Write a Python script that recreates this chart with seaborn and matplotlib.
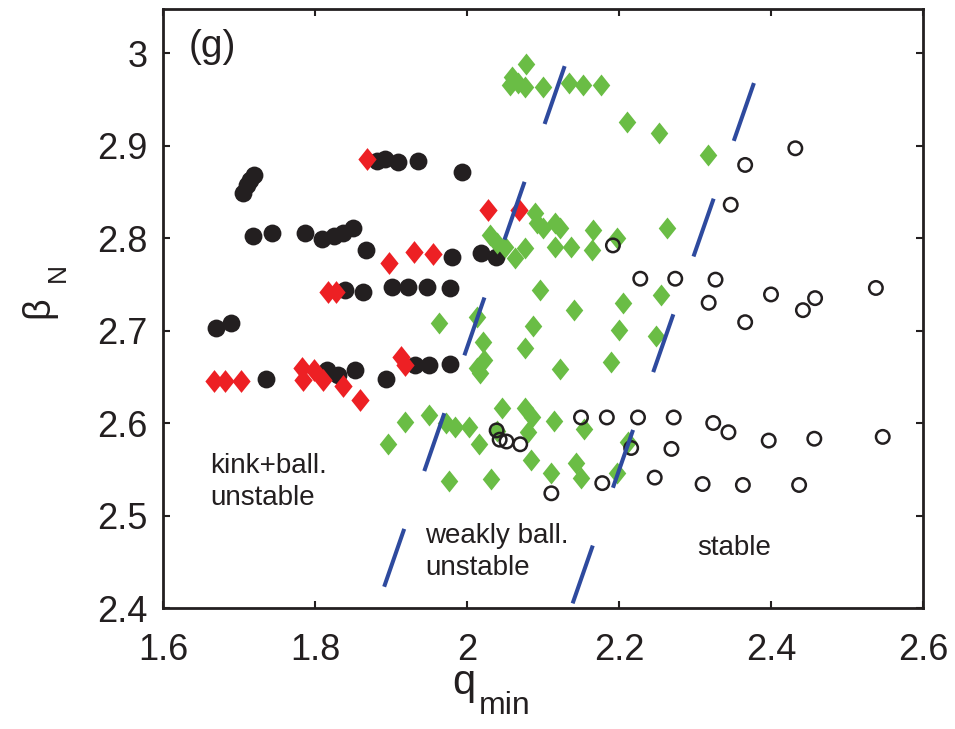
import numpy as np
import pandas as pd
import matplotlib
matplotlib.use("Agg")
import matplotlib.pyplot as plt
import seaborn as sns
from matplotlib.ticker import FuncFormatter, FixedLocator

# ---------------- data ----------------
# kink + ballooning unstable (black filled circles)
black_q = [1.705, 1.711, 1.714, 1.720,
           1.718, 1.743, 1.787, 1.809, 1.825, 1.837, 1.850, 1.867,
           1.881, 1.892, 1.909, 1.936, 1.993,
           1.980, 2.019, 2.038,
           1.839, 1.863, 1.901, 1.922, 1.947, 1.978,
           1.670, 1.689,
           1.736, 1.816, 1.830, 1.853, 1.893, 1.932, 1.950, 1.978]
black_b = [2.849, 2.857, 2.863, 2.868,
           2.802, 2.805, 2.805, 2.799, 2.802, 2.805, 2.811, 2.787,
           2.883, 2.885, 2.882, 2.883, 2.871,
           2.780, 2.784, 2.779,
           2.744, 2.742, 2.747, 2.747, 2.747, 2.746,
           2.703, 2.708,
           2.648, 2.657, 2.652, 2.657, 2.648, 2.663, 2.663, 2.664]

# red diamonds
red_q = [1.868, 2.028, 2.068, 1.897, 1.930, 1.955, 1.817, 1.827,
         1.667, 1.682, 1.703, 1.783, 1.784, 1.799, 1.811, 1.837, 1.859,
         1.913, 1.918]
red_b = [2.885, 2.830, 2.830, 2.773, 2.785, 2.783, 2.742, 2.742,
         2.645, 2.645, 2.645, 2.659, 2.646, 2.657, 2.646, 2.640, 2.625,
         2.671, 2.663]

# green diamonds (weakly ballooning unstable)
green_q = [2.078, 2.059, 2.057, 2.067, 2.076, 2.100, 2.134, 2.153, 2.176, 2.211, 2.253, 2.317,
           2.030, 2.039, 2.050, 2.063, 2.076, 2.089, 2.092, 2.100, 2.116, 2.122, 2.116, 2.137,
           2.166, 2.164, 2.197, 2.263,
           2.096, 2.141, 2.205, 2.255, 2.087, 2.200, 2.249, 2.076, 2.123, 2.190,
           1.963, 2.013, 2.021, 2.022, 2.013, 2.017,
           1.918, 1.950, 1.972, 1.984, 2.002, 1.896, 2.016, 2.046, 2.076, 2.039, 1.976, 2.032,
           2.085, 2.080, 2.084, 2.111, 2.114, 2.154, 2.212, 2.143, 2.150, 2.197]
green_b = [2.988, 2.974, 2.965, 2.968, 2.963, 2.963, 2.968, 2.965, 2.965, 2.925, 2.914, 2.890,
           2.803, 2.795, 2.790, 2.778, 2.789, 2.827, 2.816, 2.811, 2.816, 2.811, 2.790, 2.790,
           2.809, 2.787, 2.800, 2.811,
           2.744, 2.722, 2.730, 2.738, 2.705, 2.701, 2.694, 2.681, 2.658, 2.666,
           2.708, 2.715, 2.688, 2.668, 2.659, 2.654,
           2.601, 2.609, 2.600, 2.596, 2.596, 2.577, 2.577, 2.616, 2.616, 2.591, 2.537, 2.539,
           2.607, 2.590, 2.560, 2.546, 2.602, 2.593, 2.580, 2.557, 2.541, 2.546]

# stable (open circles)
open_q = [2.432, 2.366, 2.347, 2.192, 2.228, 2.274, 2.327, 2.318, 2.400, 2.458, 2.442, 2.538, 2.366,
          2.150, 2.184, 2.225, 2.272, 2.324, 2.344, 2.397, 2.457, 2.547, 2.216, 2.269,
          2.178, 2.247, 2.310, 2.363, 2.437, 2.111,
          2.039, 2.043, 2.052, 2.070]
open_b = [2.897, 2.879, 2.836, 2.792, 2.756, 2.756, 2.755, 2.730, 2.739, 2.735, 2.722, 2.746, 2.709,
          2.606, 2.606, 2.606, 2.606, 2.600, 2.590, 2.581, 2.583, 2.585, 2.573, 2.572,
          2.535, 2.541, 2.534, 2.533, 2.533, 2.524,
          2.592, 2.582, 2.580, 2.577]

# stability boundaries (dashed blue lines)
bound1_q = [1.891, 2.129]
bound1_b = [2.423, 2.987]
bound2_q = [2.139, 2.379]
bound2_b = [2.405, 2.971]

x_ticks = [1.6, 1.8, 2.0, 2.2, 2.4, 2.6]
y_ticks = [2.4, 2.5, 2.6, 2.7, 2.8, 2.9, 3.0]

# ---------------- style ----------------
sns.set_style("ticks")
plt.rcParams["font.family"] = ["Liberation Sans", "DejaVu Sans"]

BLACK = "#231F20"
RED = "#ED2024"
GREEN = "#6ABD45"
BLUE = "#2E4A9E"

fig = plt.figure(figsize=(9.55, 7.29), dpi=100)
ax = fig.add_axes([163 / 955, 121 / 729, 760 / 955, 599 / 729])

diamond = [(0, 1), (0.8, 0), (0, -1), (-0.8, 0), (0, 1)]

sns.scatterplot(x=black_q, y=black_b, ax=ax, color=BLACK, s=165, marker="o",
                linewidth=0, zorder=3)
sns.scatterplot(x=red_q, y=red_b, ax=ax, color=RED, s=270, marker=diamond,
                linewidth=0, zorder=3)
sns.scatterplot(x=green_q, y=green_b, ax=ax, color=GREEN, s=250, marker=diamond,
                linewidth=0, zorder=4)
sns.scatterplot(x=open_q, y=open_b, ax=ax, facecolor="none", edgecolor=BLACK, s=94,
                marker="o", linewidth=1.8, zorder=5)

for bq, bb in [(bound1_q, bound1_b), (bound2_q, bound2_b)]:
    sns.lineplot(x=bq, y=bb, ax=ax, color=BLUE, linewidth=2.9, sort=False,
                 estimator=None, linestyle=(0, (15.2, 15.2)), zorder=6)

ax.set_xlim(1.6, 2.6)
ax.set_ylim(2.4, 3.0476)
ax.xaxis.set_major_locator(FixedLocator(x_ticks))
ax.yaxis.set_major_locator(FixedLocator(y_ticks))
fmt = FuncFormatter(lambda v, p: f"{v:g}")
ax.xaxis.set_major_formatter(fmt)
ax.yaxis.set_major_formatter(fmt)

for sp in ax.spines.values():
    sp.set_visible(True)
    sp.set_linewidth(2.0)
    sp.set_color(BLACK)

ax.tick_params(axis="both", which="major", direction="in", length=5, width=1.5,
               top=True, right=True, labelsize=26, colors=BLACK)
ax.tick_params(axis="x", pad=18)
ax.tick_params(axis="y", pad=11)
ax.set_xlabel("")
ax.set_ylabel("")

# axis labels built from main symbol + lowered subscript (MATLAB style)
T = ax.transAxes
ax.text(0.380, -0.1436, "q", fontsize=30, color=BLACK, transform=T,
        ha="left", va="baseline", clip_on=False)
ax.text(0.4158, -0.1770, "min", fontsize=23, color=BLACK, transform=T,
        ha="left", va="baseline", clip_on=False)
ax.text(-0.1513, 0.4841, "\u03b2", fontsize=27, color=BLACK, transform=T,
        ha="left", va="baseline", rotation=90, rotation_mode="anchor", clip_on=False)
ax.text(-0.1289, 0.5442, "N", fontsize=19, color=BLACK, transform=T,
        ha="left", va="baseline", rotation=90, rotation_mode="anchor", clip_on=False)

ax.text(1.634, 3.006, "(g)", fontsize=28, color=BLACK, ha="left", va="center")
ax.text(1.662, 2.536, "kink+ball.\nunstable", fontsize=20, color=BLACK,
        ha="left", va="center", linespacing=1.3)
ax.text(1.945, 2.461, "weakly ball.\nunstable", fontsize=20, color=BLACK,
        ha="left", va="center", linespacing=1.3)
ax.text(2.303, 2.465, "stable", fontsize=20, color=BLACK, ha="left", va="center")

fig.savefig("out.png", dpi=100)
